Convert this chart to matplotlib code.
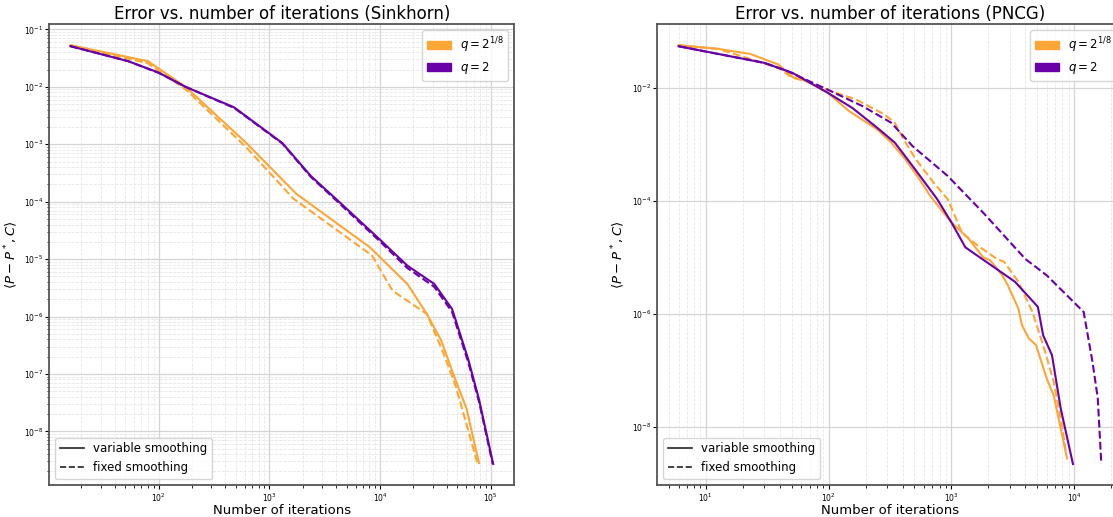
import numpy as np
import matplotlib
matplotlib.use("Agg")
import matplotlib.pyplot as plt
from matplotlib.patches import Patch
from matplotlib.lines import Line2D
from matplotlib.ticker import LogLocator, FixedLocator, NullLocator


ORANGE = '#fca636'
PURPLE = '#6a00a8'

# Sinkhorn panel
sk_fast_var_x = [16, 80, 175, 620, 1760, 8100, 17600, 26500, 35700, 46400, 60300, 78200]
sk_fast_var_y = [5.3e-2, 2.8e-2, 1.0e-2, 1.05e-3, 1.36e-4, 1.6e-5, 3.7e-6, 1.1e-6, 3.8e-7, 9.3e-8, 2.5e-8, 2.8e-9]
sk_fast_fix_x = [16, 80, 175, 620, 1640, 8430, 13000, 26500, 37000, 48100, 75300]
sk_fast_fix_y = [5.3e-2, 2.57e-2, 9.1e-3, 8.8e-4, 1.14e-4, 1.16e-5, 2.8e-6, 1.1e-6, 2.4e-7, 6.2e-8, 2.9e-9]
sk_slow_var_x = [16, 53, 100, 175, 480, 1310, 2370, 4300, 9800, 17600, 30800, 44700, 62500, 78200, 105000]
sk_slow_var_y = [5.1e-2, 2.8e-2, 1.77e-2, 1.0e-2, 4.4e-3, 1.05e-3, 2.8e-4, 9.8e-5, 2.25e-5, 7.7e-6, 3.7e-6, 1.35e-6, 1.8e-7, 3.6e-8, 2.7e-9]
sk_slow_fix_x = [16, 53, 100, 175, 480, 1310, 2370, 4300, 9800, 17600, 30800, 44700, 62500, 78200, 104000]
sk_slow_fix_y = [5.1e-2, 2.8e-2, 1.75e-2, 1.0e-2, 4.3e-3, 1.03e-3, 2.7e-4, 9.3e-5, 2.1e-5, 7.0e-6, 3.3e-6, 1.2e-6, 1.6e-7, 3.3e-8, 2.7e-9]

# PNCG panel
pn_fast_var_x = [6, 12.6, 22.9, 39, 50.7, 66, 98, 146, 248, 324, 422, 550, 670, 1000, 1390, 1810,
                 2065, 2600, 2880, 3510, 3750, 4280, 4890, 5970, 6810, 7770, 8750]
pn_fast_var_y = [5.66e-2, 4.88e-2, 3.98e-2, 2.58e-2, 1.56e-2, 1.31e-2, 8.2e-3, 3.9e-3, 1.84e-3, 1.07e-3,
                 5.4e-4, 2.4e-4, 1.23e-4, 4.15e-5, 2.1e-5, 1.0e-5, 8.9e-6, 4.8e-6, 3.2e-6, 1.24e-6,
                 6.3e-7, 3.66e-7, 2.8e-7, 7.2e-8, 3.6e-8, 9.3e-9, 2.75e-9]
pn_fast_fix_x = [6, 12.6, 39, 50.7, 66, 105, 167, 283, 346, 407, 514, 716, 933, 1216, 1585, 2355,
                 2690, 3510, 4570, 5580, 6810, 8040, 8610]
pn_fast_fix_y = [5.66e-2, 4.88e-2, 2.25e-2, 1.5e-2, 1.31e-2, 8.7e-3, 6.2e-3, 3.4e-3, 2.4e-3, 1.23e-3,
                 5.4e-4, 2.1e-4, 1.07e-4, 2.75e-5, 1.7e-5, 9.3e-6, 8.3e-6, 3.7e-6, 1.08e-6, 2.8e-7,
                 6.3e-8, 9.3e-9, 3.2e-9]
pn_slow_var_x = [6, 29.9, 50.7, 98, 156, 248, 346, 482, 766, 1000, 1300, 3290, 5060, 5580, 6590, 7770, 9770]
pn_slow_var_y = [5.43e-2, 2.76e-2, 1.84e-2, 8.2e-3, 4.4e-3, 1.97e-3, 1.07e-3, 4.15e-4, 1.07e-4, 4.15e-5,
                 1.5e-5, 3.7e-6, 1.33e-6, 4.2e-7, 1.86e-7, 2.1e-8, 2.2e-9]
pn_slow_fix_x = [6, 29.9, 44.4, 98, 190, 324, 482, 933, 1810, 4010, 5970, 11940, 14100, 15560, 16630]
pn_slow_fix_y = [5.43e-2, 2.76e-2, 2.05e-2, 9.3e-3, 4.7e-3, 2.4e-3, 9.3e-4, 2.75e-4, 6.2e-5, 9.3e-6,
                 4.8e-6, 1.08e-6, 1.4e-7, 3.2e-8, 2.2e-9]

q_labels = [r'$q = 2^{1/8}$', r'$q = 2$']
style_labels = ['variable smoothing', 'fixed smoothing']


def style_axes(ax, title, every_decade, ylab_x):
    ax.set_xscale('log')
    ax.set_yscale('log')
    ax.set_title(title, fontsize=12, pad=4)
    ax.set_xlabel('Number of iterations', fontsize=9.5)
    ax.set_ylabel(r'$\langle P - P^*, C\rangle$', fontsize=9.5)
    ax.xaxis.set_label_coords(0.5, -0.041)
    ax.yaxis.set_label_coords(ylab_x, 0.5)
    ax.xaxis.set_major_locator(LogLocator(base=10, numticks=15))
    ax.xaxis.set_minor_locator(LogLocator(base=10, subs=np.arange(2, 10), numticks=15))
    if every_decade:
        ax.yaxis.set_major_locator(LogLocator(base=10, numticks=15))
        ax.yaxis.set_minor_locator(LogLocator(base=10, subs=np.arange(2, 10), numticks=15))
    else:
        ax.yaxis.set_major_locator(FixedLocator([1e-8, 1e-6, 1e-4, 1e-2]))
        ax.yaxis.set_minor_locator(NullLocator())
    ax.tick_params(which='major', length=3)
    ax.tick_params(which='minor', length=1.8)
    ax.tick_params(which='both', labelsize=5.5, pad=1.5)
    ax.grid(True, which='major', color='#d5d5d5', lw=0.9)
    ax.grid(True, which='minor', color='#e6e6e6', lw=0.6, ls='--')
    for s in ax.spines.values():
        s.set_color('#555555')
        s.set_linewidth(1.3)

    q_handles = [Patch(color=ORANGE), Patch(color=PURPLE)]
    leg1 = ax.legend(q_handles, q_labels, loc='upper right', fontsize=8.5)
    ax.add_artist(leg1)
    s_handles = [Line2D([], [], color='#222222', lw=1.2, ls='-'),
                 Line2D([], [], color='#222222', lw=1.2, ls='--')]
    ax.legend(s_handles, style_labels, loc='lower left', fontsize=8.5)


fig = plt.figure(figsize=(11.13, 5.17), dpi=100)
ax1 = fig.add_axes([0.0443, 0.062, 0.4178, 0.891])
ax2 = fig.add_axes([0.5907, 0.062, 0.4178, 0.891])

ax1.plot(sk_fast_var_x, sk_fast_var_y, color=ORANGE, lw=1.5)
ax1.plot(sk_fast_fix_x, sk_fast_fix_y, color=ORANGE, lw=1.5, ls='--')
ax1.plot(sk_slow_var_x, sk_slow_var_y, color=PURPLE, lw=1.5)
ax1.plot(sk_slow_fix_x, sk_slow_fix_y, color=PURPLE, lw=1.5, ls='--')
style_axes(ax1, 'Error vs. number of iterations (Sinkhorn)', True, -0.062)

ax2.plot(pn_fast_var_x, pn_fast_var_y, color=ORANGE, lw=1.5)
ax2.plot(pn_fast_fix_x, pn_fast_fix_y, color=ORANGE, lw=1.5, ls='--')
ax2.plot(pn_slow_var_x, pn_slow_var_y, color=PURPLE, lw=1.5)
ax2.plot(pn_slow_fix_x, pn_slow_fix_y, color=PURPLE, lw=1.5, ls='--')
style_axes(ax2, 'Error vs. number of iterations (PNCG)', False, -0.066)

fig.savefig('out.png', dpi=100)
